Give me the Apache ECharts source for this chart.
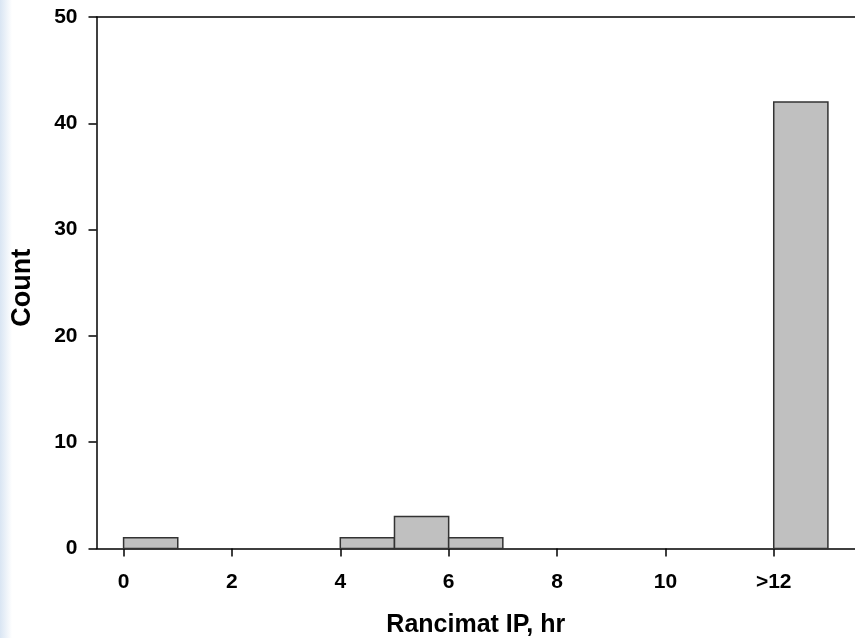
<!DOCTYPE html>
<html>
<head>
<meta charset="utf-8">
<script src="https://cdn.jsdelivr.net/npm/echarts@6/dist/echarts.min.js"></script>
<style>
  html, body { margin: 0; padding: 0; background: #fff; }
  #chart { width: 855px; height: 638px; }
</style>
</head>
<body>
<div id="chart"></div>
<script>
// histogram bins (hours) and counts
const binStart = [0, 4, 5, 6, 12]
const binEnd = [1, 5, 6, 7, 13]
const counts = [1, 1, 3, 1, 42]

const xTickValues = [0, 2, 4, 6, 8, 10, 12]
const xTickLabels = ['0', '2', '4', '6', '8', '10', '>12']

const font = 'Liberation Sans, Arial, sans-serif'

const chart = echarts.init(document.getElementById('chart'))

const option = {
  animation: false,
  graphic: [
    {
      type: 'rect',
      left: 0,
      top: 0,
      z: -10,
      shape: { width: 12, height: 638 },
      style: {
        fill: new echarts.graphic.LinearGradient(0, 0, 1, 0, [
          { offset: 0, color: '#d9e5f3' },
          { offset: 1, color: '#ffffff' }
        ])
      }
    }
  ],
  grid: {
    left: 96.5,
    right: 0,
    top: 17,
    bottom: 89.5,
    outerBoundsMode: 'none'
  },
  xAxis: [
    {
      type: 'value',
      min: -0.5,
      max: 13.5,
      name: 'Rancimat IP, hr',
      nameLocation: 'middle',
      nameGap: 64,
      nameTextStyle: { color: '#000', fontSize: 25, fontWeight: 'bold', fontFamily: font },
      axisLine: { show: true, onZero: false, lineStyle: { color: '#000', width: 1.5 } },
      axisTick: { show: true, customValues: xTickValues, length: 8, lineStyle: { color: '#000', width: 1.5 } },
      axisLabel: {
        customValues: xTickValues,
        formatter: v => xTickLabels[xTickValues.indexOf(v)],
        margin: 23,
        color: '#000',
        fontSize: 21,
        fontWeight: 'bold',
        fontFamily: font
      },
      splitLine: { show: false }
    },
    {
      type: 'value',
      position: 'top',
      min: -0.5,
      max: 13.5,
      axisLine: { show: true, onZero: false, lineStyle: { color: '#000', width: 1.5 } },
      axisTick: { show: false },
      axisLabel: { show: false },
      splitLine: { show: false }
    }
  ],
  yAxis: {
    type: 'value',
    min: 0,
    max: 50,
    interval: 10,
    name: 'Count',
    nameLocation: 'middle',
    nameGap: 60,
    nameTextStyle: { color: '#000', fontSize: 27, fontWeight: 'bold', fontFamily: font, padding: [0, 10, 0, 0] },
    axisLine: { show: true, onZero: false, lineStyle: { color: '#000', width: 1.5 } },
    axisTick: { show: true, length: 8, lineStyle: { color: '#000', width: 1.5 } },
    axisLabel: {
      margin: 19,
      color: '#000',
      fontSize: 21,
      fontWeight: 'bold',
      fontFamily: font
    },
    splitLine: { show: false }
  },
  series: [
    {
      type: 'custom',
      xAxisIndex: 0,
      data: counts.map((c, i) => [binStart[i], binEnd[i], c]),
      renderItem: (params, api) => {
        const p0 = api.coord([api.value(0), 0])
        const p1 = api.coord([api.value(1), api.value(2)])
        return {
          type: 'rect',
          shape: { x: p0[0], y: p1[1], width: p1[0] - p0[0], height: p0[1] - p1[1] },
          style: { fill: '#c0c0c0', stroke: '#333', lineWidth: 1.5 }
        }
      }
    }
  ]
}

chart.setOption(option)
</script>
</body>
</html>
